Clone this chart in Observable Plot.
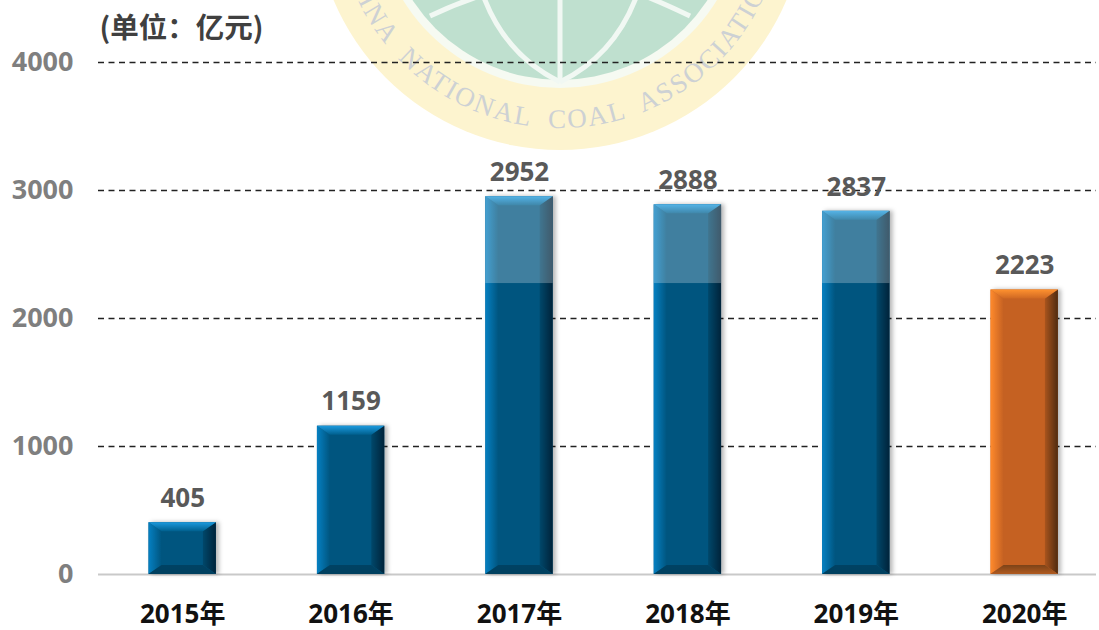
<!DOCTYPE html>
<html><head><meta charset="utf-8">
<style>html,body{margin:0;padding:0;background:#fff}svg{display:block}</style>
<script src="https://cdn.jsdelivr.net/npm/d3@7"></script>
<script src="https://cdn.jsdelivr.net/npm/@observablehq/plot@0.6"></script>
</head><body><div id="c"></div>
<script>
const years = ["2015年","2016年","2017年","2018年","2019年","2020年"];
const values = [405,1159,2952,2888,2837,2223];
const tones = ["blue","blue","blue","blue","blue","orange"];
const overlayBase = 2273;
const overlayYears = ["2017年","2018年","2019年"];
const yTicks = [0,1000,2000,3000,4000];
const gridTicks = [1000,2000,3000,4000];
const unitLabel = "(单位\uFF1A亿元)";
const sealText = "CHINA NATIONAL COAL ASSOCIATION";

const rows = years.map((year,i)=>({year,value:values[i],tone:tones[i]}));
const overlays = rows.filter(r=>overlayYears.includes(r.year));
const font = '"Open Sans","Noto Sans CJK SC",sans-serif';
const palette = {
  blue:{face:"#00557f",leftA:"#0580c2",topA:"#1c9ade",topB:"#00608f",rightA:"#00233a",rightB:"#00486b",botA:"#004263",botB:"#00405f"},
  orange:{face:"#c56122",leftA:"#ff8a2c",topA:"#ff922f",topB:"#cf6823",rightA:"#4f2b10",rightB:"#a9541d",botA:"#7c4318",botB:"#b05a20"}
};
const NS="http://www.w3.org/2000/svg";
function el(name,attrs,parent){const e=document.createElementNS(NS,name);for(const k in attrs)e.setAttribute(k,attrs[k]);if(parent)parent.appendChild(e);return e;}

// Seal watermark behind the chart
function seal(index,scales,values_,dims){
  const g=el("g",{});
  const cx=560,cy=-96;
  el("circle",{cx,cy,r:246,fill:"#fdf4cf"},g);
  el("circle",{cx,cy,r:184,fill:"#f6faf2"},g);
  el("circle",{cx,cy,r:176,fill:"#bfe0cf"},g);
  const lines=["M560,-20 L560,80","M483,-5 Q505,55 560,82","M637,-5 Q615,55 560,82","M430,16 Q455,4 480,-4","M690,16 Q665,4 645,-4"];
  lines.forEach(d=>el("path",{d,fill:"none",stroke:"#f1f8f3","stroke-width":5},g));
  const defs=el("defs",{},g);
  const r=224;
  el("path",{id:"sealArc",d:`M${cx-r},${cy} A${r},${r} 0 0 0 ${cx+r},${cy}`},defs);
  const t=el("text",{"font-family":'"Liberation Serif",serif',"font-size":27,fill:"#cdd1d4","letter-spacing":2,"word-spacing":9,"text-anchor":"middle"},g);
  const tp=el("textPath",{href:"#sealArc",startOffset:"347"},t);
  tp.textContent=sealText;
  return g;
}

// Bevelled bars: the library's bar mark supplies each rect, facets are added around it
function bevel(index,scales,vals,dims,ctx,next){
  const g=next(index,scales,vals,dims,ctx);
  const defs=el("defs",{},g);
  const grad=(id,x2,y2,a,b)=>{const l=el("linearGradient",{id,x1:0,y1:0,x2,y2},defs);el("stop",{offset:0,"stop-color":a},l);el("stop",{offset:1,"stop-color":b},l);};
  for(const k in palette){const p=palette[k];
    grad(k+"L",1,0,p.leftA,p.face);grad(k+"T",0,1,p.topA,p.topB);grad(k+"R",1,0,p.rightB,p.rightA);grad(k+"B",0,1,p.botA,p.botB);}
  const rects=[...g.querySelectorAll("rect")];
  rects.forEach((rc,n)=>{
    const tone=rows[index[n]].tone;
    const x=+rc.getAttribute("x"),y=+rc.getAttribute("y"),w=+rc.getAttribute("width"),h=+rc.getAttribute("height");
    const bx=13,bt=9,bb=9;
    const X=x+w,Y=y+h;
    const poly=(pts,fill)=>el("polygon",{points:pts.map(p=>p.join(",")).join(" "),fill},g);
    poly([[x,y],[x+bx,y+bt],[x+bx,Y-bb],[x,Y]],`url(#${tone}L)`);
    poly([[X,y],[X-bx,y+bt],[X-bx,Y-bb],[X,Y]],`url(#${tone}R)`);
    poly([[x,y],[X,y],[X-bx,y+bt],[x+bx,y+bt]],`url(#${tone}T)`);
    poly([[x,Y],[X,Y],[X-bx,Y-bb],[x+bx,Y-bb]],`url(#${tone}B)`);
  });
  g.style.filter="drop-shadow(3px 0px 2px rgba(0,0,0,.28))";
  return g;
}

const plot=Plot.plot({
  width:1099,height:630,
  marginLeft:98,marginRight:3,marginTop:62,marginBottom:56,
  style:{background:"transparent",fontFamily:font},
  x:{type:"band",domain:years,range:[98,1108.4],paddingInner:0.6,paddingOuter:0.3,round:false,label:null},
  y:{domain:[0,4000],range:[574,62],label:null},
  marks:[
    seal,
    Plot.ruleY(gridTicks,{stroke:"#222",strokeWidth:1.3,strokeDasharray:"6,4.5"}),
    Plot.ruleY([0],{stroke:"#c9c9c9",strokeWidth:2}),
    Plot.barY(rows,{x:"year",y:"value",fill:d=>palette[d.tone].face,render:bevel}),
    Plot.barY(overlays,{x:"year",y1:()=>overlayBase,y2:"value",fill:"#fff",fillOpacity:0.25}),
    Plot.text(rows,{x:"year",y:"value",text:d=>String(d.value),dy:-24,fontSize:26,fontWeight:700,fill:"#595959",fontFamily:font}),
    Plot.axisY({ticks:yTicks,tickSize:0,tickPadding:25,fontSize:27,fontWeight:700,color:"#7f7f7f",label:null,tickFormat:d=>String(d)}),
    Plot.axisX({tickSize:0,tickPadding:30,fontSize:26,fontWeight:700,color:"#111",label:null}),
    Plot.text([unitLabel],{frameAnchor:"top-left",dx:1,dy:-45,textAnchor:"start",fontSize:28.5,fontWeight:700,fill:"#404040",fontFamily:'"Noto Sans CJK SC",sans-serif'})
  ]
});
document.getElementById("c").appendChild(plot);
</script></body></html>
